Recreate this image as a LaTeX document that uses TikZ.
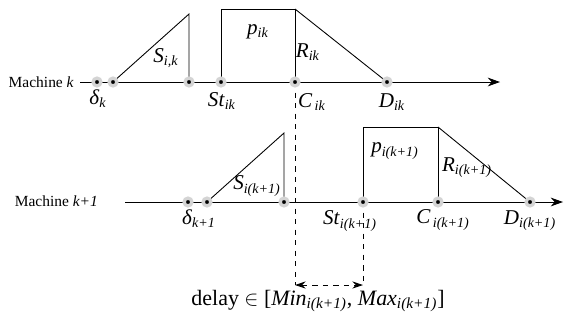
\documentclass[tikz,border=0pt]{standalone}
\usepackage{fontspec}
\setmainfont{Liberation Serif}
\usetikzlibrary{arrows.meta, positioning, backgrounds}
\definecolor{halo}{RGB}{212,212,212}
\newcommand{\lab}[2]{\textit{#1}\textsubscript{\textit{#2}}}

\begin{document}
\begin{tikzpicture}[x=0.02cm, y=-0.02cm,
        evt/.style={circle, fill=black, draw=halo, line width=1.9pt, inner sep=0pt, minimum size=4.4pt},
        lbl/.style={font=\fontsize{12}{14}\selectfont},
        mach/.style={font=\fontsize{8.8}{10}\selectfont, anchor=east},
        axis/.style={-{Stealth[length=7pt, width=5pt]}, line width=0.5pt},
        job/.style={line width=0.5pt},
        gap/.style={dashed, line width=0.5pt, {Stealth[length=6pt, width=4pt]}-{Stealth[length=6pt, width=4pt]}}
    ]
        \useasboundingbox (0,0) rectangle (575,322);

        % Machine k
        \node[mach] (mk) at (80,82) {Machine \textit{k}};
        \node[evt] (dk) at (97,82) {};
        \node[evt] (sa) at (113,82) {};
        \node[evt] (sb) at (189,82) {};
        \node[evt] (stk) at (221,82) {};
        \node[evt] (ck) at (295,82) {};
        \node[evt] (dlk) at (387,82) {};
        \coordinate (ek) at (500,82);
        \coordinate (tk) at (189,14);
        \coordinate (pa) at (221,9);
        \coordinate (pb) at (295,9);
        \node[lbl] (ldk) at (98,99) {\textit{δ}\textsubscript{\textit{k}}};
        \node[lbl] (lsk) at (166,58) {\lab{S}{i,k}};
        \node[lbl] (lpk) at (258,32) {\lab{p}{ik}};
        \node[lbl] (lrk) at (308,52) {\lab{R}{ik}};
        \node[lbl] (lstk) at (222,101) {\lab{St}{ik}};
        \node[lbl] (lck) at (312,102) {\lab{C}{\,ik}};
        \node[lbl] (ldlk) at (392,102) {\lab{D}{ik}};

        % Machine k+1
        \node[mach] (mn) at (104,201) {Machine \textit{k+1}};
        \node[evt] (dn) at (188,202) {};
        \node[evt] (na) at (207,202) {};
        \node[evt] (nb) at (284,202) {};
        \node[evt] (stn) at (363,202) {};
        \node[evt] (cn) at (438,202) {};
        \node[evt] (dln) at (530,202) {};
        \coordinate (bn) at (125,202);
        \coordinate (en) at (563,202);
        \coordinate (tn) at (284,133);
        \coordinate (qa) at (363,127);
        \coordinate (qb) at (438,127);
        \node[lbl] (ldn) at (199,219) {\textit{δ}\textsubscript{\textit{k+1}}};
        \node[lbl] (lsn) at (257,186) {\lab{S}{i(k+1)}};
        \node[lbl] (lpn) at (395,151) {\lab{p}{i(k+1)}};
        \node[lbl] (lrn) at (467,168) {\lab{R}{i(k+1)}};
        \node[lbl] (lstn) at (350,221) {\lab{St}{i(k+1)}};
        \node[lbl] (lcn) at (443,220) {\lab{C}{\,i(k+1)}};
        \node[lbl] (ldln) at (530,221) {\lab{D}{i(k+1)}};

        % delay window
        \coordinate (ga) at (295,285);
        \coordinate (gb) at (363,285);
        \node[font=\fontsize{12.5}{14}\selectfont] (dly) at (318,301) {delay $\in$ [\lab{Min}{i(k+1)}, \lab{Max}{i(k+1)}]};

        \begin{scope}[on background layer]
            \draw[axis] (mk.east) -- (ek);
            \draw[job] (sa.center) -- (tk) -- (sb.center);
            \draw[job] (stk.center) -- (pa) -- (pb) -- (ck.center);
            \draw[job] (pb) -- (dlk.center);
            \draw[axis] (bn) -- (en);
            \draw[job] (na.center) -- (tn) -- (nb.center);
            \draw[job] (stn.center) -- (qa) -- (qb) -- (cn.center);
            \draw[job] (qb) -- (dln.center);
            \draw[dashed, line width=0.5pt] (ck.center) -- (ga);
            \draw[dashed, line width=0.5pt] (stn.center) -- (gb);
            \draw[gap] (ga) -- (gb);
        \end{scope}
    \end{tikzpicture}
\end{document}
